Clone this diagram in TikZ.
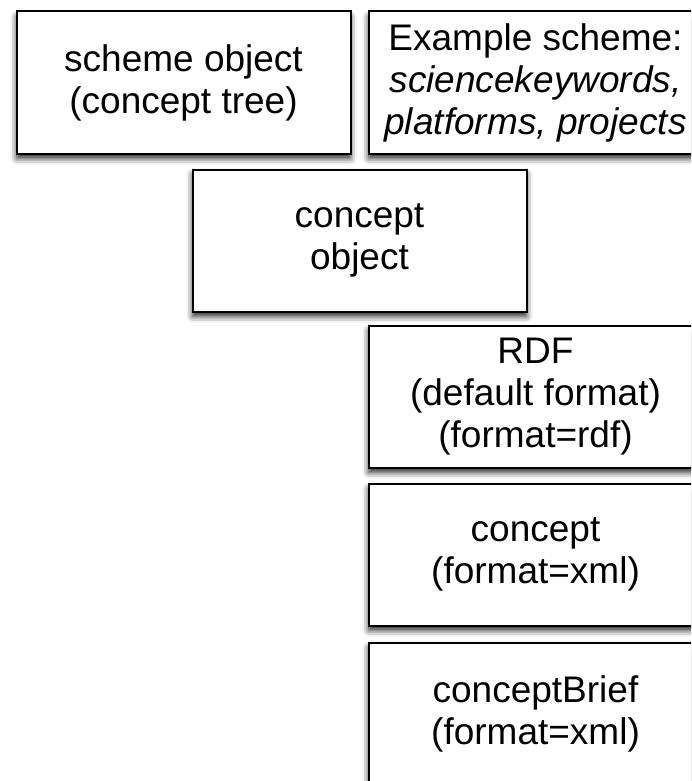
\documentclass[tikz,border=0pt]{standalone}
\usepackage{fontspec}
\setmainfont{Liberation Sans}
\usetikzlibrary{positioning,calc,shadows.blur}
\tikzset{node distance=14pt, % Gap between two boxes. Change if necessary.
        objbox/.style={ % Sets the properties for each box
            draw,
            line width=2pt,
            fill=white,
            minimum width=334pt,
            minimum height=142pt,
            align=center,
            font=\fontsize{37}{42}\selectfont,
            blur shadow={shadow xshift=0pt, shadow yshift=-5pt,
                shadow blur radius=6pt, shadow opacity=85}}
        }

\begin{document}
\begin{tikzpicture}
    \useasboundingbox (0,0) rectangle (691pt,-781pt);
    \clip (0,0) rectangle (691pt,-781pt);

    \node[objbox]  (scheme)  at (183.5pt,-82.5pt)  {scheme object\\(concept tree)};
    \node[objbox]  (example) [right=16pt of scheme] {Example scheme:\\\textit{sciencekeywords,}\\\textit{platforms, projects}};

    \coordinate (gap) at ($(scheme.south east)!0.5!(example.south west)$);
    \node[objbox]  (concept) [below=14pt of gap]  {concept\\object};

    \coordinate (col) at (concept.south -| example.south);
    \node[objbox]  (rdf)     [below=12pt of col]  {RDF\\(default format)\\(format=rdf)};
    \node[objbox]  (xml)     [below=of rdf]       {concept\\(format=xml)};
    \node[objbox]  (brief)   [below=15pt of xml]  {conceptBrief\\(format=xml)};
\end{tikzpicture}
\end{document}
